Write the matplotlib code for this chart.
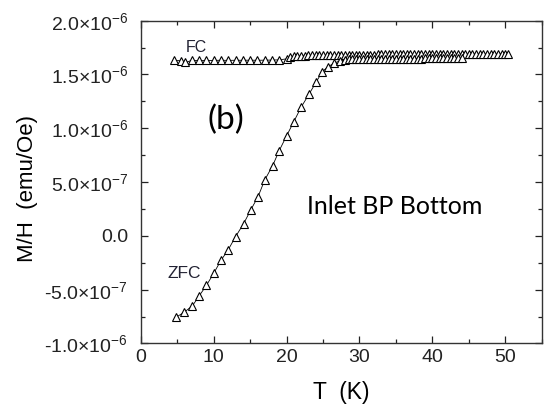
import matplotlib.pyplot as plt
from matplotlib.ticker import MultipleLocator, FixedLocator, FixedFormatter

plt.rcParams['font.family'] = ['Liberation Sans', 'DejaVu Sans']
plt.rcParams['mathtext.fontset'] = 'custom'
plt.rcParams['mathtext.rm'] = 'Liberation Sans'
plt.rcParams['mathtext.it'] = 'Liberation Sans'

# field-cooled branch (T in K, M/H in 1e-6 emu/Oe)
fc_t = [4.6, 5.5, 6.1, 7.0, 8.0, 9.0, 10.0, 11.0, 12.0, 13.0, 14.0, 15.0,
        16.0, 17.0, 18.0, 19.0, 20.0,
        20.5, 21.0, 21.5, 22.0, 22.5, 23.0, 23.5, 24.0, 24.5, 25.0, 25.5,
        26.0, 26.5, 27.0, 27.5, 28.0, 28.5, 29.0, 29.5, 30.0, 30.5, 31.0,
        31.5, 32.0, 32.5, 33.0, 33.5, 34.0, 34.5, 35.0, 35.5, 36.0, 36.5,
        37.0, 37.5, 38.0, 38.5, 39.0, 39.5, 40.0, 40.5, 41.0, 41.5, 42.0,
        42.5, 43.0, 43.5, 44.0, 44.5, 45.0, 45.5, 46.0, 46.5, 47.0, 47.5,
        48.0, 48.5, 49.0, 49.5, 50.0, 50.4]
fc_m = [1.630, 1.628, 1.612, 1.630, 1.631, 1.630, 1.631, 1.632, 1.631, 1.632,
        1.632, 1.633, 1.632, 1.633, 1.634, 1.636, 1.645,
        1.662, 1.668, 1.672, 1.674, 1.676, 1.677, 1.678, 1.678, 1.679, 1.680,
        1.680, 1.681, 1.681, 1.682, 1.682, 1.683, 1.683, 1.683, 1.684, 1.684,
        1.684, 1.685, 1.685, 1.685, 1.686, 1.686, 1.686, 1.686, 1.687, 1.687,
        1.687, 1.687, 1.688, 1.688, 1.688, 1.688, 1.688, 1.689, 1.689, 1.689,
        1.689, 1.689, 1.690, 1.690, 1.690, 1.690, 1.690, 1.690, 1.691, 1.691,
        1.691, 1.691, 1.691, 1.691, 1.692, 1.692, 1.692, 1.692, 1.692, 1.692,
        1.692]

# zero-field-cooled branch
zfc_t = [4.9, 6.0, 7.1, 8.0, 9.0, 10.0, 11.0, 12.0, 13.0, 14.1, 15.1, 16.1,
         17.0, 18.1, 19.0, 20.0, 21.0, 22.0, 23.1, 24.1, 24.9, 25.7, 26.5,
         27.3, 28.0, 28.5, 29.0, 29.5, 30.0, 30.5, 31.0, 31.5, 32.0, 32.5,
         33.0, 33.5, 34.0, 34.5, 35.0, 35.5, 36.0, 36.5, 37.0, 37.5, 38.0,
         38.5, 39.0, 39.5, 40.0, 40.5, 41.0, 41.5, 42.0, 42.5, 43.0, 43.5,
         44.0]
zfc_m = [-0.754, -0.708, -0.649, -0.559, -0.461, -0.349, -0.228, -0.129,
         -0.008, 0.112, 0.242, 0.366, 0.518, 0.654, 0.793, 0.929, 1.062,
         1.196, 1.319, 1.434, 1.526, 1.573, 1.604, 1.626, 1.636, 1.640,
         1.642, 1.643, 1.644, 1.644, 1.645, 1.645, 1.645, 1.646, 1.646,
         1.646, 1.646, 1.647, 1.647, 1.647, 1.647, 1.648, 1.648, 1.648,
         1.648, 1.648, 1.649, 1.649, 1.649, 1.649, 1.649, 1.650, 1.650,
         1.650, 1.650, 1.650, 1.650]

y_ticks = [-1.0e-6, -5.0e-7, 0.0, 5.0e-7, 1.0e-6, 1.5e-6, 2.0e-6]
y_labels = [r'-1.0$\times$10$^{-6}$', r'-5.0$\times$10$^{-7}$', '0.0',
            r'5.0$\times$10$^{-7}$', r'1.0$\times$10$^{-6}$',
            r'1.5$\times$10$^{-6}$', r'2.0$\times$10$^{-6}$']

fig = plt.figure(figsize=(5.44, 4.12), dpi=100)
ax = fig.add_axes([0.2587, 0.1663, 0.7371, 0.7835])

style = dict(marker='^', ms=6, mfc='white', mec='black', mew=0.8,
             color='black', lw=0.6)
ax.plot(fc_t, [m * 1e-6 for m in fc_m], **style)
ax.plot(zfc_t, [m * 1e-6 for m in zfc_m], **style)

ax.set_xlim(0, 55)
ax.set_ylim(-1.0e-6, 2.0e-6)
ax.xaxis.set_major_locator(FixedLocator([0, 10, 20, 30, 40, 50]))
ax.xaxis.set_minor_locator(MultipleLocator(5))
ax.yaxis.set_major_locator(FixedLocator(y_ticks))
ax.yaxis.set_major_formatter(FixedFormatter(y_labels))
ax.yaxis.set_minor_locator(MultipleLocator(2.5e-7))
ax.tick_params(which='both', direction='in', top=True, right=True,
               colors='#222222', labelsize=14, width=0.9)
ax.tick_params(which='major', length=5)
ax.tick_params(which='minor', length=3)
ax.tick_params(axis='x', pad=4)
ax.tick_params(axis='y', pad=9)
for s in ax.spines.values():
    s.set_linewidth(1.0)
    s.set_color('#333333')

ax.set_xlabel('T  (K)', fontsize=16.5, va='center')
ax.xaxis.set_label_coords(0.5, -0.153)
ax.set_ylabel('M/H  (emu/Oe)', fontsize=16, va='center')
ax.yaxis.set_label_coords(-0.2835, 0.48)

ax.text(7.6, 1.751e-6, 'FC', fontsize=11.5, ha='center', va='center',
        color='#222233')
ax.text(5.95, -0.345e-6, 'ZFC', fontsize=12.5, ha='center', va='center',
        color='#222233')
ax.text(9.2, 1.078e-6, '(b)', fontsize=24, ha='left', va='center',
        family=['Lato', 'DejaVu Sans'])
ax.text(22.74, 0.273e-6, 'Inlet BP Bottom', fontsize=18, ha='left',
        va='center', family=['Lato', 'DejaVu Sans'])

fig.savefig('out.png', dpi=100)
